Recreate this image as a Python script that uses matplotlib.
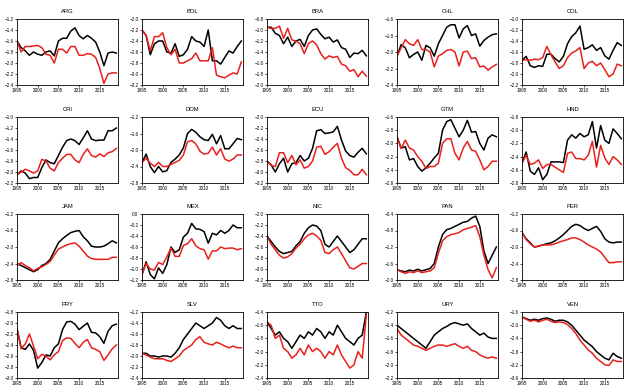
import numpy as np
import matplotlib
matplotlib.use('Agg')
import matplotlib.pyplot as plt

years = list(range(1995, 2020))

# Serie preta e serie vermelha para cada pais
ARG_K = [-1.60, -1.72, -1.78, -1.86, -1.80, -1.84, -1.86, -1.80, -1.78, -1.87, -1.60, -1.55, -1.55, -1.42, -1.36, -1.50, -1.56, -1.50, -1.55, -1.62, -1.80, -2.05, -1.82, -1.80, -1.82]
ARG_R = [-1.60, -1.80, -1.70, -1.70, -1.69, -1.68, -1.72, -1.84, -1.86, -2.00, -1.75, -1.75, -1.82, -1.70, -1.70, -1.86, -1.86, -1.83, -1.84, -1.90, -2.10, -2.37, -2.20, -2.18, -2.18]
BOL_K = [-2.20, -2.30, -2.65, -2.45, -2.40, -2.40, -2.60, -2.62, -2.45, -2.68, -2.65, -2.55, -2.32, -2.40, -2.42, -2.50, -2.20, -2.76, -2.76, -2.82, -2.70, -2.58, -2.62, -2.50, -2.40]
BOL_R = [-2.20, -2.30, -2.58, -2.32, -2.32, -2.25, -2.52, -2.65, -2.55, -2.80, -2.80, -2.76, -2.72, -2.62, -2.76, -2.76, -2.76, -2.52, -3.02, -3.05, -3.07, -3.02, -2.98, -3.00, -2.78]
BRA_K = [-0.95, -0.95, -1.06, -1.10, -1.25, -1.13, -1.30, -1.20, -1.17, -1.30, -1.10, -1.00, -0.98, -1.08, -1.16, -1.13, -1.22, -1.18, -1.32, -1.35, -1.50, -1.42, -1.43, -1.37, -1.47]
BRA_R = [-0.95, -0.97, -0.97, -0.93, -1.15, -0.97, -1.18, -1.20, -1.25, -1.43, -1.25, -1.20, -1.27, -1.43, -1.53, -1.47, -1.50, -1.48, -1.62, -1.65, -1.75, -1.72, -1.85, -1.75, -1.84]
CHL_K = [-2.05, -1.91, -1.95, -2.07, -2.03, -2.00, -2.10, -1.92, -1.95, -2.05, -1.90, -1.80, -1.70, -1.67, -1.67, -1.83, -1.72, -1.68, -1.80, -1.78, -1.93, -1.86, -1.82, -1.79, -1.78]
CHL_R = [-2.05, -1.95, -1.85, -1.90, -1.92, -1.85, -1.97, -1.97, -2.00, -2.18, -2.05, -2.02, -1.98, -1.97, -2.00, -2.17, -2.00, -1.99, -2.08, -2.07, -2.18, -2.17, -2.22, -2.18, -2.15]
COL_K = [-1.75, -1.68, -1.85, -1.88, -1.85, -1.86, -1.64, -1.64, -1.72, -1.78, -1.68, -1.45, -1.32, -1.25, -1.13, -1.55, -1.52, -1.47, -1.57, -1.52, -1.67, -1.73, -1.57, -1.43, -1.48]
COL_R = [-1.75, -1.74, -1.75, -1.73, -1.74, -1.70, -1.50, -1.65, -1.78, -1.90, -1.85, -1.70, -1.62, -1.58, -1.52, -1.90, -1.80, -1.77, -1.85, -1.80, -1.92, -2.05, -2.00, -1.82, -1.85]
CRI_K = [-2.05, -1.98, -2.02, -2.12, -2.10, -2.10, -1.92, -1.78, -1.83, -1.85, -1.70, -1.55, -1.43, -1.40, -1.43, -1.50, -1.38, -1.25, -1.40, -1.43, -1.42, -1.42, -1.25, -1.25, -1.20]
CRI_R = [-2.05, -2.00, -1.95, -1.98, -2.02, -1.98, -1.77, -1.80, -1.93, -1.98, -1.83, -1.75, -1.68, -1.68, -1.78, -1.83, -1.68, -1.58, -1.70, -1.73, -1.67, -1.72, -1.65, -1.63, -1.57]
DOM_K = [-2.30, -2.10, -2.40, -2.55, -2.40, -2.53, -2.50, -2.30, -2.22, -2.12, -1.95, -1.60, -1.50, -1.57, -1.68, -1.75, -1.77, -1.62, -1.85, -1.65, -1.97, -1.97, -1.85, -1.72, -1.75]
DOM_R = [-2.30, -2.20, -2.32, -2.40, -2.30, -2.40, -2.40, -2.35, -2.30, -2.25, -2.12, -1.80, -1.77, -1.85, -2.03, -2.10, -2.08, -1.93, -2.12, -1.97, -2.22, -2.27, -2.22, -2.12, -2.12]
ECU_K = [-2.80, -2.87, -3.00, -2.85, -2.75, -3.00, -2.85, -2.83, -2.70, -2.80, -2.75, -2.57, -2.25, -2.23, -2.30, -2.29, -2.27, -2.17, -2.42, -2.62, -2.70, -2.73, -2.64, -2.57, -2.67]
ECU_R = [-2.80, -2.88, -2.90, -2.65, -2.65, -2.83, -2.70, -2.87, -2.78, -2.93, -2.90, -2.80, -2.55, -2.53, -2.68, -2.63, -2.55, -2.48, -2.75, -2.92, -2.97, -3.05, -3.05, -2.95, -3.05]
GTM_K = [-1.90, -2.07, -2.05, -2.25, -2.23, -2.35, -2.42, -2.37, -2.30, -2.22, -2.15, -1.80, -1.67, -1.64, -1.77, -1.90, -1.80, -1.65, -1.83, -1.82, -2.00, -2.10, -1.92, -1.87, -1.90]
GTM_R = [-1.90, -2.08, -1.95, -2.07, -2.10, -2.20, -2.27, -2.38, -2.35, -2.35, -2.30, -2.00, -1.93, -1.93, -2.15, -2.25, -2.07, -1.97, -2.10, -2.12, -2.25, -2.40, -2.35, -2.27, -2.27]
HND_K = [-2.50, -2.33, -2.62, -2.67, -2.57, -2.75, -2.67, -2.48, -2.48, -2.48, -2.49, -2.15, -2.07, -2.12, -2.05, -2.10, -2.07, -1.87, -2.27, -1.93, -2.15, -2.20, -1.98, -2.05, -2.13]
HND_R = [-2.50, -2.38, -2.52, -2.50, -2.45, -2.58, -2.52, -2.52, -2.56, -2.60, -2.64, -2.35, -2.33, -2.43, -2.43, -2.45, -2.38, -2.17, -2.56, -2.23, -2.42, -2.52, -2.40, -2.45, -2.52]
JAM_K = [-2.40, -2.45, -2.50, -2.55, -2.60, -2.55, -2.45, -2.40, -2.30, -2.10, -1.90, -1.80, -1.72, -1.65, -1.62, -1.60, -1.75, -1.85, -1.98, -2.00, -2.00, -1.98, -1.92, -1.85, -1.90]
JAM_R = [-2.45, -2.38, -2.45, -2.50, -2.58, -2.52, -2.48, -2.42, -2.35, -2.20, -2.05, -2.00, -1.95, -1.92, -1.90, -1.98, -2.10, -2.22, -2.28, -2.30, -2.30, -2.30, -2.30, -2.25, -2.25]
MEX_K = [-1.10, -0.87, -1.10, -1.18, -0.98, -1.08, -0.92, -0.60, -0.70, -0.65, -0.42, -0.35, -0.17, -0.27, -0.28, -0.32, -0.53, -0.35, -0.38, -0.30, -0.35, -0.30, -0.20, -0.25, -0.25]
MEX_R = [-1.10, -0.90, -1.00, -1.02, -0.88, -0.92, -0.78, -0.62, -0.77, -0.77, -0.57, -0.54, -0.45, -0.58, -0.63, -0.65, -0.82, -0.67, -0.67, -0.60, -0.63, -0.62, -0.62, -0.65, -0.63]
NIC_K = [-2.40, -2.50, -2.60, -2.68, -2.72, -2.70, -2.68, -2.58, -2.50, -2.35, -2.25, -2.20, -2.22, -2.30, -2.55, -2.60, -2.50, -2.40, -2.50, -2.60, -2.70, -2.65, -2.55, -2.45, -2.45]
NIC_R = [-2.40, -2.55, -2.65, -2.75, -2.80, -2.78, -2.72, -2.62, -2.55, -2.45, -2.38, -2.35, -2.40, -2.48, -2.70, -2.72, -2.65, -2.60, -2.72, -2.85, -2.98, -3.00, -2.95, -2.90, -2.90]
PAN_K = [-1.75, -1.78, -1.80, -1.76, -1.78, -1.74, -1.78, -1.75, -1.72, -1.60, -1.20, -0.90, -0.78, -0.75, -0.70, -0.65, -0.60, -0.58, -0.50, -0.45, -0.70, -1.30, -1.60, -1.40, -1.20]
PAN_R = [-1.75, -1.80, -1.84, -1.80, -1.82, -1.78, -1.82, -1.80, -1.78, -1.70, -1.35, -1.05, -0.95, -0.90, -0.88, -0.85, -0.78, -0.75, -0.72, -0.68, -0.95, -1.40, -1.75, -1.95, -1.70]
PER_K = [-1.65, -1.80, -1.90, -2.00, -1.98, -1.95, -1.92, -1.90, -1.85, -1.78, -1.70, -1.60, -1.50, -1.45, -1.48, -1.55, -1.60, -1.55, -1.50, -1.62, -1.80, -1.88, -1.90, -1.88, -1.88]
PER_R = [-1.65, -1.82, -1.92, -2.00, -1.98, -1.95, -1.95, -1.95, -1.92, -1.88, -1.85, -1.82, -1.78, -1.78, -1.82, -1.88, -1.95, -2.00, -2.05, -2.12, -2.25, -2.38, -2.38, -2.36, -2.36]
PRY_K = [-2.10, -2.45, -2.48, -2.38, -2.50, -2.82, -2.72, -2.58, -2.60, -2.45, -2.38, -2.12, -1.98, -1.97, -2.02, -2.12, -2.06, -2.00, -2.17, -2.18, -2.25, -2.37, -2.15, -2.05, -2.02]
PRY_R = [-2.10, -2.47, -2.38, -2.20, -2.42, -2.65, -2.57, -2.60, -2.67, -2.58, -2.52, -2.32, -2.27, -2.28, -2.37, -2.45, -2.35, -2.30, -2.45, -2.48, -2.52, -2.68, -2.58, -2.47, -2.40]
SLV_K = [-1.95, -1.95, -2.00, -2.00, -2.02, -2.00, -2.00, -2.02, -1.95, -1.85, -1.70, -1.60, -1.50, -1.40, -1.45, -1.50, -1.45, -1.40, -1.30, -1.35, -1.45, -1.50, -1.45, -1.50, -1.50]
SLV_R = [-1.95, -1.98, -2.02, -2.05, -2.05, -2.05, -2.08, -2.10, -2.05, -2.00, -1.90, -1.85, -1.80, -1.70, -1.65, -1.75, -1.78, -1.80, -1.75, -1.78, -1.82, -1.85, -1.82, -1.85, -1.85]
TTO_K = [-1.55, -1.65, -1.75, -1.70, -1.80, -1.85, -1.95, -1.85, -1.75, -1.80, -1.70, -1.75, -1.65, -1.70, -1.80, -1.70, -1.75, -1.60, -1.70, -1.80, -1.85, -1.90, -1.80, -1.75, -1.40]
TTO_R = [-1.55, -1.60, -1.80, -1.75, -1.95, -2.00, -2.10, -2.05, -1.95, -2.05, -1.90, -2.00, -1.95, -2.00, -2.10, -2.00, -2.05, -1.90, -2.05, -2.15, -2.25, -2.20, -2.00, -2.10, -1.45]
URY_K = [-1.40, -1.45, -1.50, -1.55, -1.60, -1.65, -1.70, -1.75, -1.65, -1.55, -1.50, -1.45, -1.42, -1.38, -1.36, -1.38, -1.40, -1.38, -1.45, -1.50, -1.55, -1.52, -1.58, -1.60, -1.60]
URY_R = [-1.45, -1.55, -1.60, -1.65, -1.70, -1.72, -1.75, -1.78, -1.75, -1.72, -1.70, -1.70, -1.72, -1.70, -1.68, -1.72, -1.75, -1.72, -1.78, -1.80, -1.85, -1.88, -1.90, -1.88, -1.90]
VEN_K = [-1.75, -1.80, -1.85, -1.82, -1.85, -1.80, -1.78, -1.82, -1.88, -1.85, -1.85, -1.90, -2.00, -2.15, -2.30, -2.45, -2.55, -2.65, -2.80, -2.90, -3.00, -3.05, -2.85, -2.95, -3.00]
VEN_R = [-1.75, -1.82, -1.88, -1.85, -1.90, -1.85, -1.82, -1.88, -1.92, -1.90, -1.92, -1.98, -2.10, -2.25, -2.45, -2.60, -2.75, -2.85, -3.00, -3.10, -3.20, -3.22, -3.05, -3.10, -3.10]

# limites do eixo y (topo, base, passo)
ylims = {
    'ARG': (-1.2, -2.4, 0.2), 'BOL': (-2.0, -3.2, 0.2), 'BRA': (-0.8, -2.0, 0.2),
    'CHL': (-1.6, -2.4, 0.2), 'COL': (-1.0, -2.2, 0.2), 'CRI': (-1.0, -2.2, 0.2),
    'DOM': (-1.2, -2.8, 0.4), 'ECU': (-2.0, -3.2, 0.2), 'GTM': (-1.6, -2.6, 0.2),
    'HND': (-1.8, -2.8, 0.2), 'JAM': (-1.2, -2.8, 0.4), 'MEX': (0.0, -1.2, 0.2),
    'NIC': (-2.0, -3.2, 0.2), 'PAN': (-0.4, -2.0, 0.4), 'PER': (-1.2, -2.8, 0.4),
    'PRY': (-1.8, -3.0, 0.2), 'SLV': (-1.2, -2.4, 0.2), 'TTO': (-1.4, -2.4, 0.2),
    'URY': (-1.2, -2.2, 0.2), 'VEN': (-1.6, -3.6, 0.4),
}

paineis = [
    ('ARG', ARG_K, ARG_R), ('BOL', BOL_K, BOL_R), ('BRA', BRA_K, BRA_R), ('CHL', CHL_K, CHL_R), ('COL', COL_K, COL_R),
    ('CRI', CRI_K, CRI_R), ('DOM', DOM_K, DOM_R), ('ECU', ECU_K, ECU_R), ('GTM', GTM_K, GTM_R), ('HND', HND_K, HND_R),
    ('JAM', JAM_K, JAM_R), ('MEX', MEX_K, MEX_R), ('NIC', NIC_K, NIC_R), ('PAN', PAN_K, PAN_R), ('PER', PER_K, PER_R),
    ('PRY', PRY_K, PRY_R), ('SLV', SLV_K, SLV_R), ('TTO', TTO_K, TTO_R), ('URY', URY_K, URY_R), ('VEN', VEN_K, VEN_R),
]

W, H = 640, 392
fig = plt.figure(figsize=(W / 100, H / 100), dpi=100)
plt.rcParams['font.family'] = 'Liberation Sans'

lefts = [17, 142, 267, 397, 522]
tops = [19, 117, 214, 312]
largura, altura = 101, 66

for i, (nome, preto, verm) in enumerate(paineis):
    lin, col = divmod(i, 5)
    x0 = lefts[col] / W
    y0 = 1 - (tops[lin] + altura) / H
    ax = fig.add_axes([x0, y0, largura / W, altura / H])
    ax.plot(years, preto, color='black', lw=1.1)
    ax.plot(years, verm, color='#e8201c', lw=1.1)
    top, bot, step = ylims[nome]
    ax.set_ylim(bot, top)
    ax.set_yticks(np.round(np.arange(bot, top + step / 2, step), 1))
    ax.set_xlim(1995, 2019.4)
    ax.set_xticks([1995, 2000, 2005, 2010, 2015])
    ax.tick_params(labelsize=3.3, length=1.5, width=0.5, pad=1)
    for s in ax.spines.values():
        s.set_linewidth(0.6)
    ax.set_title(nome, fontsize=4.2, pad=4)

fig.savefig('out.png', dpi=100)
